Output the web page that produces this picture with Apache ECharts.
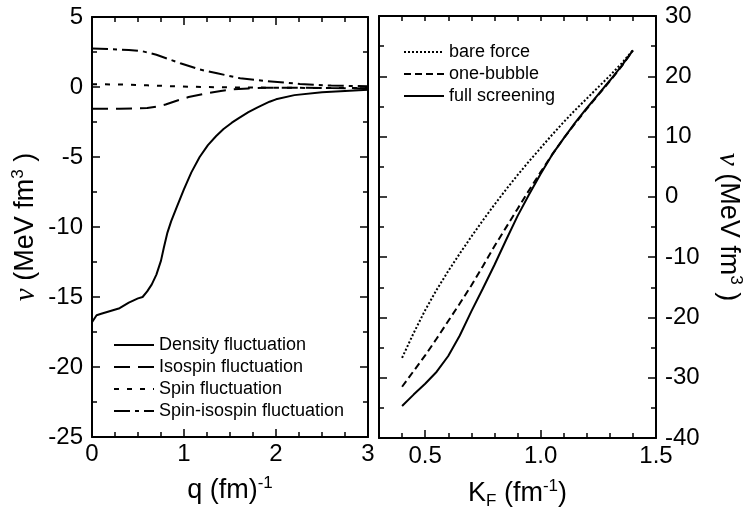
<!DOCTYPE html>
<html>
<head>
<meta charset="utf-8">
<script src="https://cdn.jsdelivr.net/npm/echarts@6.0.0/dist/echarts.min.js"></script>
<style>
    html, body {margin: 0; padding: 0; background: #fff;}
    #main {width: 743px; height: 521px;}
</style>
</head>
<body>
<div id="main"></div>
<script>
// left panel: q (fm^-1) vs v (MeV fm^3)
var densityQ = [0, 0.05, 0.1, 0.2, 0.3, 0.4, 0.5, 0.55, 0.6, 0.65, 0.7, 0.75, 0.78, 0.82, 0.86, 0.92, 1.0, 1.08, 1.17, 1.26, 1.35, 1.43, 1.52, 1.6, 1.7, 1.8, 1.93, 2.0, 2.2, 2.5, 2.8, 3.0];
var densityV = [-16.8, -16.3, -16.2, -16.0, -15.8, -15.4, -15.1, -15.0, -14.6, -14.1, -13.4, -12.4, -11.5, -10.4, -9.6, -8.6, -7.3, -6.1, -5.0, -4.15, -3.5, -3.0, -2.55, -2.2, -1.8, -1.45, -1.05, -0.88, -0.58, -0.37, -0.26, -0.2];
var isospinQ = [0, 0.3, 0.6, 0.7, 0.8, 0.92, 1.05, 1.25, 1.4, 1.53, 1.7, 1.9, 2.2, 2.6, 3.0];
var isospinV = [-1.55, -1.55, -1.5, -1.4, -1.25, -0.98, -0.72, -0.45, -0.28, -0.17, -0.1, -0.05, -0.05, -0.08, -0.1];
var spinQ = [0, 0.3, 0.6, 0.9, 1.2, 1.5, 2.0, 2.5, 3.0];
var spinV = [0.2, 0.18, 0.12, 0.05, 0.0, -0.03, -0.05, -0.07, -0.08];
var spinIsoQ = [0, 0.2, 0.4, 0.55, 0.7, 0.85, 0.96, 1.17, 1.36, 1.61, 1.9, 2.26, 2.6, 3.0];
var spinIsoV = [2.75, 2.7, 2.65, 2.55, 2.3, 1.95, 1.7, 1.25, 0.98, 0.62, 0.42, 0.22, 0.1, 0.05];

// right panel: K_F (fm^-1) vs v (MeV fm^3)
var kF = [0.4, 0.45, 0.5, 0.55, 0.6, 0.65, 0.7, 0.75, 0.8, 0.85, 0.9, 0.95, 1.0, 1.05, 1.1, 1.15, 1.2, 1.25, 1.3, 1.35, 1.4];
var bareForce = [-26.7, -22.6, -18.8, -15.4, -12.3, -9.4, -6.6, -3.9, -1.3, 1.2, 3.6, 5.9, 8.1, 10.3, 12.4, 14.4, 16.3, 18.2, 20.1, 22.1, 24.3];
var oneBubble = [-31.5, -28.9, -26.3, -23.5, -20.6, -17.7, -14.7, -11.5, -8.2, -5.1, -2.0, 1.1, 4.1, 7.0, 9.7, 12.2, 14.6, 16.9, 19.2, 21.6, 24.3];
var fullScreening = [-34.7, -32.8, -31.0, -29.0, -26.4, -23.0, -19.0, -15.2, -11.3, -7.2, -3.2, 0.4, 3.8, 7.0, 9.7, 12.3, 14.7, 17.0, 19.3, 21.7, 24.3];

var kFLabels = [0.5, 1.0, 1.5];
var kFMajorTicks = [0.5, 1.0, 1.5];

var FONT = 'Liberation Sans, Arial, sans-serif';

function pairs(xs, ys) {
    var out = [];
    for (var i = 0; i < xs.length; i++) {
        out.push([xs[i], ys[i]]);
    }
    return out;
}

// 框线坐标轴的公共样式
function boxAxis(extra) {
    var base = {
        type: 'value',
        axisLine: {show: true, onZero: false, lineStyle: {color: '#000', width: 2}},
        axisTick: {show: true, inside: true, length: 8, lineStyle: {color: '#000', width: 1.5}},
        minorTick: {show: false},
        splitLine: {show: false},
        minorSplitLine: {show: false},
        axisLabel: {show: false, color: '#000', fontFamily: FONT, fontSize: 24}
    };
    for (var k in extra) {
        if (typeof extra[k] === 'object' && base[k] && !Array.isArray(extra[k])) {
            base[k] = Object.assign({}, base[k], extra[k]);
        } else {
            base[k] = extra[k];
        }
    }
    return base;
}

var richText = {
    nu: {fontFamily: 'Liberation Serif, serif', fontStyle: 'italic', fontSize: 29, color: '#000'},
    sup: {fontFamily: FONT, fontSize: 17, color: '#000', padding: [0, 0, 15, 0]},
    sub: {fontFamily: FONT, fontSize: 17, color: '#000', padding: [15, 0, 0, 0]}
};
var nameStyle = {color: '#000', fontFamily: FONT, fontSize: 27, rich: richText};

var minorLeftX = {show: true, splitNumber: 4, length: 5, lineStyle: {color: '#000', width: 1.5}};
var minorY = {show: true, splitNumber: 2, length: 5, lineStyle: {color: '#000', width: 1.5}};

var legendBase = {
    orient: 'vertical', selectedMode: false, padding: 0,
    itemWidth: 40, itemHeight: 14, itemGap: 4,
    itemStyle: {opacity: 0},
    textStyle: {color: '#000', fontFamily: FONT, fontSize: 18}
};

var myChart = echarts.init(document.getElementById('main'));

myChart.setOption({
    backgroundColor: '#fff',
    animation: false,
    textStyle: {fontFamily: FONT},
    grid: [
        {left: 92, top: 17, width: 276, height: 420, outerBoundsMode: 'none', containLabel: false},
        {left: 379, top: 16, width: 277, height: 422, outerBoundsMode: 'none', containLabel: false}
    ],
    xAxis: [
        boxAxis({
            gridIndex: 0, position: 'bottom', min: 0, max: 3, interval: 1,
            minorTick: minorLeftX,
            axisLabel: {show: true, margin: 5},
            name: 'q (fm){sup|-1}', nameLocation: 'middle', nameGap: 38, nameTextStyle: nameStyle
        }),
        boxAxis({gridIndex: 0, position: 'top', min: 0, max: 3, interval: 1, minorTick: minorLeftX}),
        boxAxis({
            gridIndex: 1, position: 'bottom', min: 0.3, max: 1.5, interval: 0.1,
            axisTick: {length: 5},
            axisLabel: {
                show: true, margin: 6, customValues: kFLabels,
                formatter: function (v) { return v.toFixed(1); }
            },
            name: 'K{sub|F} (fm{sup|-1})', nameLocation: 'middle', nameGap: 40, nameTextStyle: nameStyle
        }),
        boxAxis({gridIndex: 1, position: 'top', min: 0.3, max: 1.5, interval: 0.1, axisTick: {length: 5}}),
        boxAxis({
            gridIndex: 1, position: 'bottom', min: 0.3, max: 1.5,
            axisLine: {show: false},
            axisTick: {customValues: kFMajorTicks}
        })
    ],
    yAxis: [
        boxAxis({
            gridIndex: 0, position: 'left', min: -25, max: 5, interval: 5,
            minorTick: minorY,
            axisLabel: {show: true, margin: 9},
            name: '{nu|ν} (MeV fm{sup|3} )', nameLocation: 'middle', nameGap: 50, nameTextStyle: nameStyle
        }),
        boxAxis({gridIndex: 0, position: 'right', min: -25, max: 5, interval: 5, minorTick: minorY}),
        boxAxis({
            gridIndex: 1, position: 'right', min: -40, max: 30, interval: 10,
            minorTick: minorY,
            axisLabel: {show: true, margin: 9},
            name: '{nu|ν} (MeV fm{sup|3} )', nameLocation: 'middle', nameGap: 56, nameRotate: -90,
            nameTextStyle: nameStyle
        }),
        boxAxis({gridIndex: 1, position: 'left', min: -40, max: 30, interval: 10, minorTick: minorY})
    ],
    legend: [
        Object.assign({}, legendBase, {
            left: 113, top: 336,
            data: ['Density fluctuation', 'Isospin fluctuation', 'Spin fluctuation', 'Spin-isospin fluctuation']
        }),
        Object.assign({}, legendBase, {
            left: 403, top: 43,
            data: ['bare force', 'one-bubble', 'full screening']
        })
    ],
    series: [
        {
            name: 'Density fluctuation', type: 'line', xAxisIndex: 0, yAxisIndex: 0,
            symbol: 'none', data: pairs(densityQ, densityV),
            lineStyle: {color: '#000', width: 2, type: 'solid'}, itemStyle: {color: '#000'}
        },
        {
            name: 'Isospin fluctuation', type: 'line', xAxisIndex: 0, yAxisIndex: 0,
            symbol: 'none', data: pairs(isospinQ, isospinV),
            lineStyle: {color: '#000', width: 2, type: [16, 8]}, itemStyle: {color: '#000'}
        },
        {
            name: 'Spin fluctuation', type: 'line', xAxisIndex: 0, yAxisIndex: 0,
            symbol: 'none', data: pairs(spinQ, spinV),
            lineStyle: {color: '#000', width: 2, type: [5, 8]}, itemStyle: {color: '#000'}
        },
        {
            name: 'Spin-isospin fluctuation', type: 'line', xAxisIndex: 0, yAxisIndex: 0,
            symbol: 'none', data: pairs(spinIsoQ, spinIsoV),
            lineStyle: {color: '#000', width: 2, type: [16, 5, 4, 5]}, itemStyle: {color: '#000'}
        },
        {
            name: 'bare force', type: 'line', xAxisIndex: 2, yAxisIndex: 2,
            symbol: 'none', data: pairs(kF, bareForce),
            lineStyle: {color: '#000', width: 2, type: [2, 2]}, itemStyle: {color: '#000'}
        },
        {
            name: 'one-bubble', type: 'line', xAxisIndex: 2, yAxisIndex: 2,
            symbol: 'none', data: pairs(kF, oneBubble),
            lineStyle: {color: '#000', width: 2, type: [7, 4]}, itemStyle: {color: '#000'}
        },
        {
            name: 'full screening', type: 'line', xAxisIndex: 2, yAxisIndex: 2,
            symbol: 'none', data: pairs(kF, fullScreening),
            lineStyle: {color: '#000', width: 2, type: 'solid'}, itemStyle: {color: '#000'}
        }
    ]
});
</script>
</body>
</html>
